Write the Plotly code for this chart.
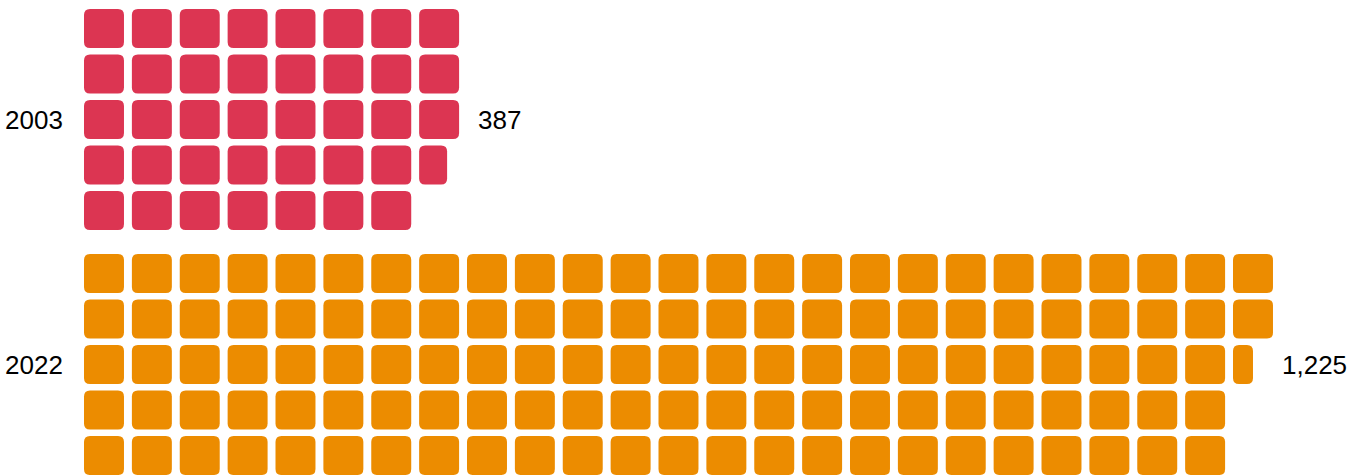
import math
import plotly.graph_objects as go

# ---- data ----
years = ["2003", "2022"]
values = [387, 1225]
value_labels = ["387", "1,225"]
colors = ["#DC3552", "#EC8C00"]
unit = 10          # one square = 10
rows_per_group = 5

# ---- geometry (in axis units) ----
px_per_col = 47.875
px_per_row = 45.5
cell_w = 0.835     # square width as a fraction of column pitch
cell_h = 0.857     # square height as a fraction of row pitch
group_offset = 5.385
rx = 6 / px_per_col    # corner radius in x units
ry = 6 / px_per_row    # corner radius in y units


def rounded_path(x0, y0, w, h):
    r_x = min(rx, w / 2)
    r_y = min(ry, h / 2)
    x1, y1 = x0 + w, y0 + h
    return (f"M{x0 + r_x},{y0} L{x1 - r_x},{y0} Q{x1},{y0} {x1},{y0 + r_y} "
            f"L{x1},{y1 - r_y} Q{x1},{y1} {x1 - r_x},{y1} "
            f"L{x0 + r_x},{y1} Q{x0},{y1} {x0},{y1 - r_y} "
            f"L{x0},{y0 + r_y} Q{x0},{y0} {x0 + r_x},{y0} Z")


fig = go.Figure()
shapes = []
annotations = []
label_gap = [0.19, -0.02]

for g, (yr, val, lab, col) in enumerate(zip(years, values, value_labels, colors)):
    n = val / unit
    full = int(math.floor(n + 1e-9))
    frac = n - full
    cells = [(i, 1.0) for i in range(full)]
    if frac > 1e-6:
        cells.append((full, frac))
    for idx, f in cells:
        c = idx // rows_per_group
        r = idx % rows_per_group
        y0 = g * group_offset + r
        shapes.append(dict(type="path", xref="x", yref="y",
                           path=rounded_path(c, y0, cell_w * f, cell_h),
                           fillcolor=col, line=dict(width=0), layer="above"))
    ncols = math.ceil(n / rows_per_group)
    ymid = g * group_offset + 2 + cell_h / 2
    annotations.append(dict(x=-0.40, y=ymid, xref="x", yref="y", text=yr,
                            showarrow=False, xanchor="right", yanchor="middle",
                            font=dict(size=26, color="#000000")))
    annotations.append(dict(x=ncols + label_gap[g], y=ymid, xref="x", yref="y", text=lab,
                            showarrow=False, xanchor="left", yanchor="middle",
                            font=dict(size=26, color="#000000")))

# invisible trace so axes exist
fig.add_trace(go.Scatter(x=[0], y=[0], mode="markers", marker=dict(opacity=0),
                         hoverinfo="skip", showlegend=False))

W, H = 1363, 475
x0 = -84 / px_per_col
x1 = x0 + W / px_per_col
y0 = -9 / px_per_row
y1 = y0 + H / px_per_row

fig.update_layout(
    width=W, height=H,
    margin=dict(l=0, r=0, t=0, b=0),
    paper_bgcolor="white", plot_bgcolor="white",
    shapes=shapes, annotations=annotations,
    font=dict(family="Liberation Sans, Arial, sans-serif"),
    xaxis=dict(range=[x0, x1], visible=False, fixedrange=True),
    yaxis=dict(range=[y1, y0], visible=False, fixedrange=True),
    showlegend=False,
)

fig.write_html("out.html", config={"displayModeBar": False},
               post_script="document.body.style.margin='0';document.body.style.overflow='hidden';")
